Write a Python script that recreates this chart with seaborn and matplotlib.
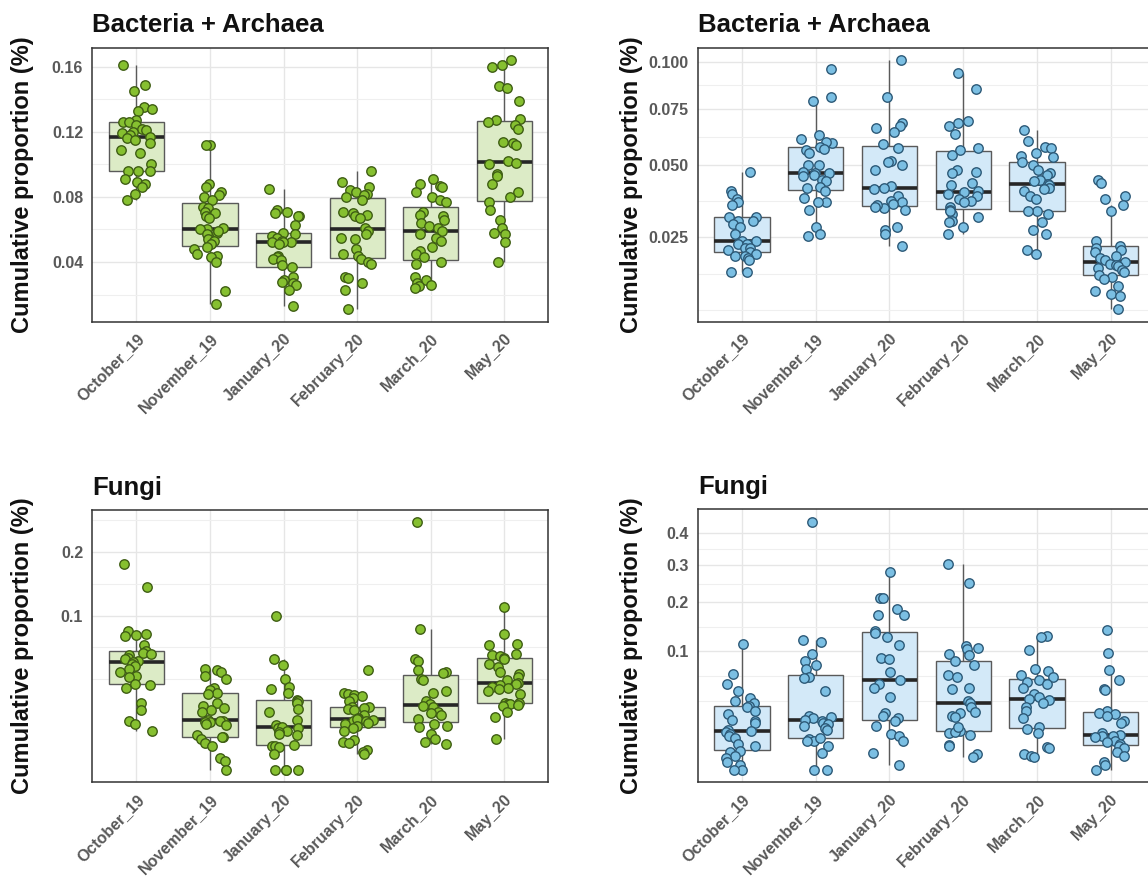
import numpy as np
import pandas as pd
import matplotlib
matplotlib.use("Agg")
import matplotlib.pyplot as plt
import seaborn as sns

months = ["October_19", "November_19", "January_20", "February_20", "March_20", "May_20"]

# cumulative proportion (%) per sample, one list per month
bact_left = [
    [0.161, 0.149, 0.145, 0.135, 0.134, 0.133, 0.127, 0.126, 0.126, 0.124, 0.122, 0.121, 0.120, 0.119, 0.118,
     0.117, 0.116, 0.115, 0.113, 0.109, 0.107, 0.100, 0.096, 0.096, 0.096, 0.091, 0.089, 0.088, 0.086, 0.082, 0.078],
    [0.112, 0.112, 0.088, 0.086, 0.083, 0.081, 0.080, 0.078, 0.074, 0.073, 0.071, 0.070, 0.068, 0.067, 0.058,
     0.060, 0.061, 0.060, 0.059, 0.057, 0.054, 0.053, 0.051, 0.049, 0.048, 0.045, 0.044, 0.043, 0.040, 0.022, 0.014],
    [0.085, 0.072, 0.071, 0.070, 0.068, 0.068, 0.063, 0.058, 0.057, 0.056, 0.055, 0.053, 0.052, 0.052, 0.052,
     0.051, 0.044, 0.043, 0.042, 0.041, 0.038, 0.037, 0.031, 0.029, 0.028, 0.027, 0.026, 0.023, 0.013],
    [0.096, 0.089, 0.086, 0.084, 0.083, 0.082, 0.081, 0.080, 0.078, 0.071, 0.070, 0.069, 0.068, 0.067, 0.061,
     0.059, 0.057, 0.055, 0.054, 0.048, 0.045, 0.044, 0.042, 0.040, 0.039, 0.031, 0.030, 0.027, 0.023, 0.011],
    [0.091, 0.088, 0.087, 0.086, 0.083, 0.080, 0.078, 0.077, 0.071, 0.069, 0.068, 0.066, 0.064, 0.062, 0.061,
     0.059, 0.057, 0.055, 0.053, 0.049, 0.047, 0.045, 0.043, 0.040, 0.039, 0.031, 0.029, 0.027, 0.025, 0.024, 0.026],
    [0.164, 0.161, 0.160, 0.148, 0.147, 0.139, 0.128, 0.127, 0.126, 0.124, 0.122, 0.114, 0.113, 0.112, 0.102,
     0.101, 0.100, 0.094, 0.093, 0.088, 0.083, 0.077, 0.080, 0.072, 0.066, 0.061, 0.058, 0.057, 0.052, 0.040],
]

bact_right = [
    [0.047, 0.040, 0.039, 0.037, 0.036, 0.035, 0.031, 0.030, 0.031, 0.030, 0.029, 0.028, 0.026, 0.024, 0.024,
     0.023, 0.023, 0.022, 0.022, 0.0215, 0.021, 0.0205, 0.020, 0.020, 0.0195, 0.019, 0.016, 0.016],
    [0.096, 0.081, 0.079, 0.0625, 0.061, 0.059, 0.0595, 0.0575, 0.0565, 0.056, 0.055, 0.050, 0.050, 0.047, 0.0465,
     0.0465, 0.046, 0.0455, 0.044, 0.0435, 0.0415, 0.041, 0.040, 0.0375, 0.036, 0.036, 0.0335, 0.028, 0.026, 0.0255],
    [0.101, 0.081, 0.068, 0.067, 0.066, 0.064, 0.0585, 0.057, 0.0515, 0.051, 0.050, 0.048, 0.0418, 0.041, 0.0408,
     0.038, 0.0365, 0.036, 0.0355, 0.034, 0.0335, 0.035, 0.0345, 0.028, 0.027, 0.026, 0.0225],
    [0.094, 0.085, 0.069, 0.068, 0.067, 0.063, 0.057, 0.056, 0.054, 0.048, 0.047, 0.0465, 0.043, 0.042, 0.040,
     0.0395, 0.039, 0.038, 0.037, 0.0365, 0.036, 0.0345, 0.0335, 0.032, 0.030, 0.0295, 0.026, 0.031, 0.033, 0.028],
    [0.065, 0.060, 0.0575, 0.057, 0.055, 0.0535, 0.053, 0.051, 0.050, 0.048, 0.0465, 0.046, 0.044, 0.0435, 0.0425,
     0.042, 0.041, 0.0405, 0.040, 0.038, 0.037, 0.033, 0.032, 0.033, 0.0295, 0.027, 0.026, 0.0215, 0.0205],
    [0.044, 0.043, 0.038, 0.037, 0.035, 0.033, 0.024, 0.0225, 0.022, 0.0215, 0.021, 0.020, 0.0195, 0.019, 0.0185,
     0.018, 0.0178, 0.0175, 0.017, 0.0165, 0.016, 0.0155, 0.015, 0.0145, 0.013, 0.012, 0.0115, 0.011, 0.0087],
]

fungi_left = [
    [0.177, 0.140, 0.081, 0.077, 0.076, 0.075, 0.065, 0.059, 0.057, 0.056, 0.055, 0.053, 0.052, 0.050, 0.049,
     0.047, 0.045, 0.043, 0.040, 0.037, 0.036, 0.031, 0.030, 0.028, 0.019, 0.015, 0.010, 0.009, 0.0065],
    [0.043, 0.042, 0.040, 0.037, 0.035, 0.028, 0.027, 0.025, 0.024, 0.019, 0.017, 0.016, 0.015, 0.014, 0.0105,
     0.0102, 0.0100, 0.0095, 0.0098, 0.009, 0.0085, 0.005, 0.0045, 0.0045, 0.004, 0.003, 0.0025, 0.0006, 0.0003, 0.0],
    [0.100, 0.052, 0.046, 0.035, 0.0285, 0.0275, 0.025, 0.0205, 0.0195, 0.020, 0.019, 0.0155, 0.014, 0.0105, 0.0085,
     0.0075, 0.0077, 0.0072, 0.0065, 0.006, 0.0055, 0.005, 0.0026, 0.0024, 0.0025, 0.0022, 0.0011, 0.0, 0.0, 0.0, 0.0],
    [0.042, 0.0245, 0.024, 0.0235, 0.023, 0.0215, 0.020, 0.0165, 0.0158, 0.0165, 0.016, 0.0152, 0.0125, 0.0115, 0.0108,
     0.0102, 0.011, 0.0105, 0.010, 0.0092, 0.0087, 0.008, 0.0075, 0.0065, 0.0037, 0.0033, 0.003, 0.0017, 0.0014, 0.0011],
    [0.257, 0.083, 0.052, 0.050, 0.042, 0.040, 0.039, 0.035, 0.034, 0.026, 0.025, 0.020, 0.0185, 0.017, 0.0165,
     0.014, 0.0135, 0.0125, 0.011, 0.009, 0.0082, 0.0077, 0.0055, 0.004, 0.0032, 0.0029],
    [0.111, 0.077, 0.066, 0.065, 0.056, 0.055, 0.054, 0.053, 0.052, 0.047, 0.044, 0.040, 0.0385, 0.036, 0.0336,
     0.032, 0.031, 0.030, 0.029, 0.028, 0.0275, 0.026, 0.024, 0.019, 0.019, 0.0185, 0.0185, 0.0176, 0.017, 0.014,
     0.0117, 0.0039],
]

fungi_right = [
    [0.113, 0.066, 0.053, 0.044, 0.037, 0.034, 0.032, 0.029, 0.028, 0.025, 0.022, 0.018, 0.017, 0.016, 0.0112,
     0.0108, 0.0105, 0.009, 0.0082, 0.0073, 0.0046, 0.0042, 0.0025, 0.0022, 0.0013, 0.001, 0.0005, 0.0002, 0.0, 0.0],
    [0.439, 0.120, 0.117, 0.096, 0.084, 0.079, 0.072, 0.062, 0.060, 0.044, 0.021, 0.020, 0.019, 0.018, 0.017,
     0.016, 0.015, 0.014, 0.0125, 0.0113, 0.0068, 0.006, 0.0073, 0.0059, 0.004, 0.002, 0.0, 0.0],
    [0.280, 0.210, 0.210, 0.185, 0.172, 0.170, 0.138, 0.133, 0.125, 0.111, 0.090, 0.088, 0.068, 0.057, 0.052,
     0.048, 0.038, 0.023, 0.021, 0.019, 0.017, 0.014, 0.009, 0.008, 0.006, 0.002, 0.0002],
    [0.303, 0.249, 0.109, 0.106, 0.104, 0.096, 0.094, 0.085, 0.078, 0.064, 0.062, 0.048, 0.047, 0.034, 0.032,
     0.028, 0.024, 0.023, 0.021, 0.020, 0.011, 0.0095, 0.0085, 0.0044, 0.004, 0.0017, 0.0012, 0.0105, 0.013],
    [0.128, 0.125, 0.102, 0.072, 0.069, 0.064, 0.061, 0.058, 0.055, 0.052, 0.048, 0.041, 0.038, 0.036, 0.035,
     0.032, 0.028, 0.025, 0.019, 0.013, 0.012, 0.0095, 0.0036, 0.0033, 0.0017, 0.0013, 0.0011],
    [0.139, 0.097, 0.071, 0.057, 0.047, 0.046, 0.025, 0.023, 0.022, 0.021, 0.017, 0.016, 0.0095, 0.0083, 0.0085,
     0.0081, 0.0075, 0.006, 0.0055, 0.0046, 0.004, 0.0035, 0.0022, 0.0013, 0.0004, 0.0002, 0.0],
]

bact_left_breaks = [0.04, 0.08, 0.12, 0.16]
bact_left_labels = ["0.04", "0.08", "0.12", "0.16"]
bact_right_breaks = [0.025, 0.05, 0.075, 0.1]
bact_right_labels = ["0.025", "0.050", "0.075", "0.100"]
fungi_left_breaks = [0.1, 0.2]
fungi_left_labels = ["0.1", "0.2"]
fungi_right_breaks = [0.1, 0.2, 0.3, 0.4]
fungi_right_labels = ["0.1", "0.2", "0.3", "0.4"]

GREEN = {"box": "#dcebc6", "point": "#86c030", "edge": "#3f5e14"}
BLUE = {"box": "#d3e9f8", "point": "#7bbfe3", "edge": "#2d5a78"}

W, H = 1148, 880


def to_frame(groups, sqrt):
    rows = []
    for month, vals in zip(months, groups):
        for v in vals:
            rows.append({"month": month, "val": np.sqrt(v) if sqrt else v})
    return pd.DataFrame(rows)


def draw_panel(ax, groups, breaks, labels, sqrt, pal, title, label_x):
    df = to_frame(groups, sqrt)
    sns.boxplot(data=df, x="month", y="val", order=months, ax=ax, color=pal["box"],
                saturation=1, width=0.75, showfliers=False, showcaps=False,
                linecolor="#5a5a5a", linewidth=1.0,
                medianprops={"color": "#262626", "linewidth": 2.6}, zorder=2)
    sns.stripplot(data=df, x="month", y="val", order=months, ax=ax, color=pal["point"],
                  edgecolor=pal["edge"], linewidth=1.0, size=6.8, jitter=0.22, zorder=3)

    b = np.sqrt(breaks) if sqrt else np.array(breaks, dtype=float)
    ax.set_yticks(b)
    ax.set_yticklabels(labels)
    # minor grid like ggplot: halfway between breaks, one extra break each side
    bd = b[1] - b[0]
    ext = np.concatenate([[b[0] - bd], b, [b[-1] + bd]])
    mids = (ext[:-1] + ext[1:]) / 2
    ax.set_yticks(np.concatenate([[ext[0], ext[-1]], mids]), minor=True)

    # 5% expansion in the (transformed) data range, set after the ticks
    lo, hi = df["val"].min(), df["val"].max()
    pad = 0.05 * (hi - lo)
    ax.set_ylim(lo - pad, hi + pad)
    ax.set_xlim(-0.6, len(months) - 0.4)

    ax.grid(which="major", axis="both", color="#e6e6e6", linewidth=1.0)
    ax.grid(which="minor", axis="y", color="#efefef", linewidth=0.8)
    ax.set_axisbelow(True)
    ax.tick_params(which="minor", length=0)
    ax.tick_params(which="major", direction="out", length=3.6, width=1.0, pad=3, color="#333333",
                   labelcolor="#595959", labelsize=11.5)
    for lab in ax.get_xticklabels() + ax.get_yticklabels():
        lab.set_fontweight("bold")
    plt.setp(ax.get_xticklabels(), rotation=45, ha="right", rotation_mode="anchor")
    for s in ax.spines.values():
        s.set_color("#333333")
        s.set_linewidth(1.1)

    ax.set_xlabel("")
    ax.set_ylabel("Cumulative proportion (%)", fontsize=17, fontweight="bold", color="#111111")
    ax.yaxis.set_label_coords(label_x, 0.5)
    ax.set_title(title, loc="left", fontsize=18.5, fontweight="bold", pad=11, color="#111111")


sns.set_style("white")
plt.rcParams["font.family"] = ["Liberation Sans", "DejaVu Sans"]

fig = plt.figure(figsize=(W / 100, H / 100), dpi=100)
np.random.seed(7)


def add_ax(left, top, right, bottom):
    return fig.add_axes([left / W, 1 - bottom / H, (right - left) / W, (bottom - top) / H])


ax_tl = add_ax(92.3, 47.7, 548.4, 321.7)
ax_tr = add_ax(697.8, 47.7, 1154.8, 321.7)
ax_bl = add_ax(92.3, 510.0, 548.4, 782.3)
ax_br = add_ax(697.8, 509.3, 1154.8, 782.3)

draw_panel(ax_tl, bact_left, bact_left_breaks, bact_left_labels, False, GREEN, "Bacteria + Archaea", -0.128)
draw_panel(ax_tr, bact_right, bact_right_breaks, bact_right_labels, True, BLUE, "Bacteria + Archaea", -0.12)
draw_panel(ax_bl, fungi_left, fungi_left_breaks, fungi_left_labels, True, GREEN, "Fungi", -0.128)
draw_panel(ax_br, fungi_right, fungi_right_breaks, fungi_right_labels, True, BLUE, "Fungi", -0.12)

fig.savefig("out.png", dpi=100, facecolor="white")
